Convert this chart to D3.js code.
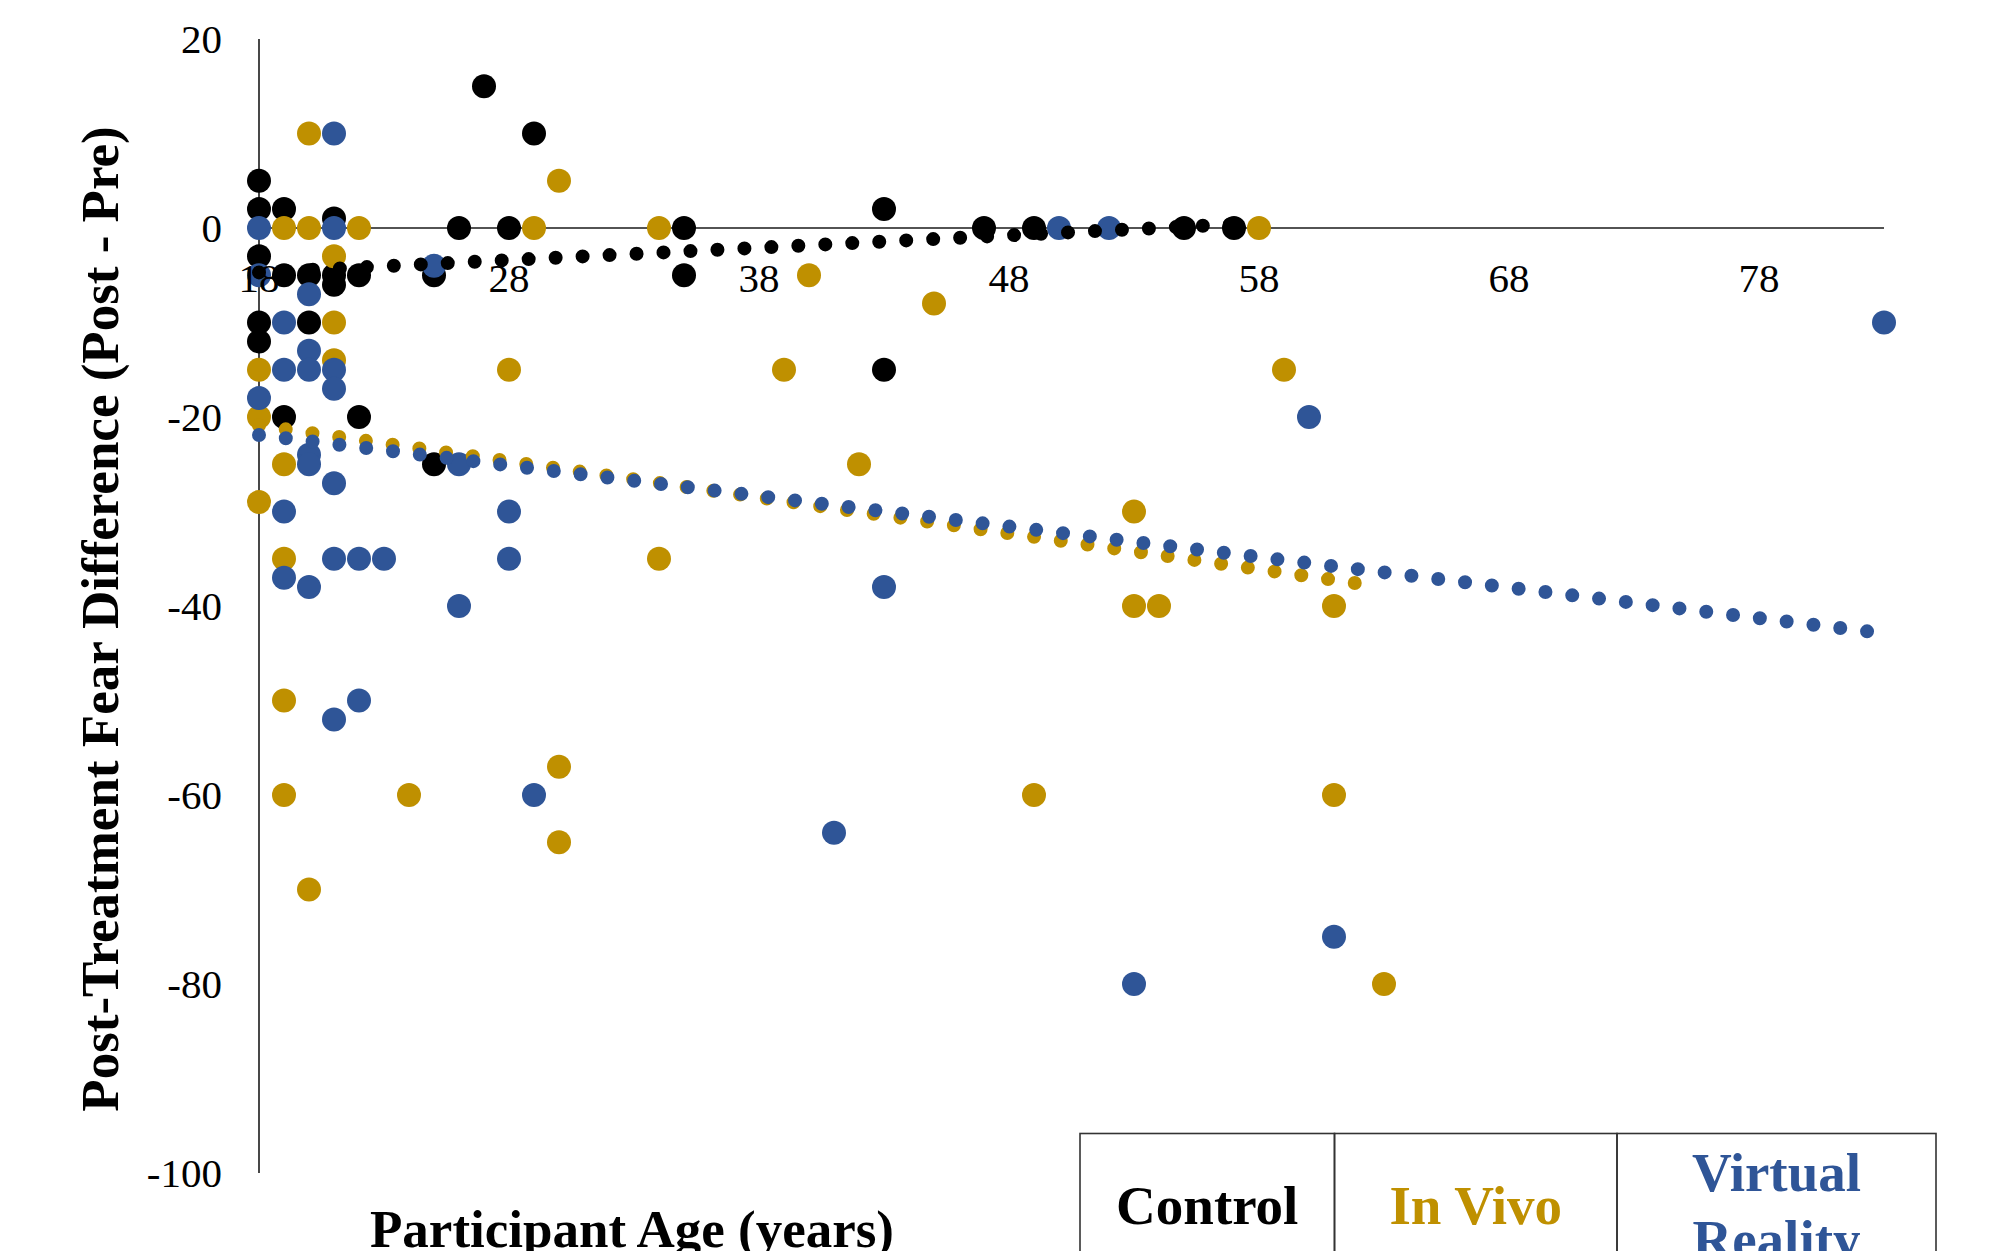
<!DOCTYPE html>
<html>
<head>
<meta charset="utf-8">
<script src="https://cdn.jsdelivr.net/npm/d3@7"></script>
<style>
  html, body { margin: 0; padding: 0; background: #fff; }
  svg { display: block; }
  text { font-family: "Liberation Serif", "Times New Roman", serif; }
</style>
</head>
<body>
<div id="my_dataviz"></div>
<script>
// Data: [age, post - pre]
var controlPoints = [
    [18, 5], [18, 2], [19, 2], [21, 1], [26, 0], [28, 0], [18, -3], [19, -5], [20, -5],
    [21, -5], [21, -6], [22, -5], [25, -5], [18, -10], [20, -10], [18, -12], [19, -20],
    [22, -20], [25, -25], [27, 15], [29, 10], [35, 0], [43, 2], [47, 0], [35, -5],
    [43, -15], [49, 0], [55, 0], [57, 0]
];
var inVivoPoints = [
    [20, 10], [19, 0], [20, 0], [22, 0], [21, -3], [21, -10], [21, -14], [18, -15],
    [18, -20], [19, -25], [18, -29], [19, -35], [19, -50], [19, -60], [20, -70], [24, -60],
    [28, -15], [29, 0], [30, 5], [30, -57], [30, -65], [34, 0], [34, -35], [39, -15],
    [40, -5], [42, -25], [45, -8], [49, -60], [53, -30], [53, -40], [54, -40], [58, 0],
    [59, -15], [61, -40], [61, -60], [63, -80]
];
var vrPoints = [
    [21, 10], [18, 0], [21, 0], [18, -5], [25, -4], [20, -7], [19, -10], [20, -13],
    [19, -15], [20, -15], [21, -15], [21, -17], [18, -18], [20, -24], [20, -25], [21, -27],
    [26, -25], [19, -30], [28, -30], [21, -35], [22, -35], [23, -35], [28, -35], [19, -37],
    [20, -38], [26, -40], [22, -50], [21, -52], [29, -60], [41, -64], [43, -38], [50, 0],
    [52, 0], [60, -20], [53, -80], [61, -75], [83, -10]
];

// linear trendlines, end points
var controlTrend = [[18, -4.7], [57, 0.4]];
var inVivoTrend = [[18, -20.9], [62.2, -37.7]];
var vrTrend = [[18, -21.9], [83, -42.9]];

var seriesNames = ["Control", "In Vivo", "Virtual Reality"];
var seriesColors = ["#000000", "#BF9000", "#2F5597"];

var xTicks = [18, 28, 38, 48, 58, 68, 78];
var yTicks = [20, 0, -20, -40, -60, -80, -100];

var width = 1990,
    height = 1251;

var svg = d3.select("#my_dataviz")
    .append("svg")
    .attr("width", width)
    .attr("height", height)
    .style("background", "#fff");

var x = d3.scaleLinear()
    .domain([18, 83])
    .range([259, 1884]);

var y = d3.scaleLinear()
    .domain([-100, 20])
    .range([1173, 39]);

// axis lines (x axis crosses at 0)
svg.append("line")
    .attr("x1", x(18)).attr("x2", x(18))
    .attr("y1", y(20)).attr("y2", y(-100))
    .attr("stroke", "#1a1a1a")
    .attr("stroke-width", 1.6);

svg.append("line")
    .attr("x1", x(18)).attr("x2", x(83))
    .attr("y1", y(0)).attr("y2", y(0))
    .attr("stroke", "#1a1a1a")
    .attr("stroke-width", 1.6);

// scatter points, one group per series
var allPoints = [controlPoints, inVivoPoints, vrPoints];

allPoints.forEach(function (pts, i) {
    svg.append("g")
        .selectAll("circle")
        .data(pts)
        .enter()
        .append("circle")
        .attr("cx", function (d) { return x(d[0]); })
        .attr("cy", function (d) { return y(d[1]); })
        .attr("r", 12)
        .attr("fill", seriesColors[i]);
});

// dotted trendlines on top
var line = d3.line()
    .x(function (d) { return x(d[0]); })
    .y(function (d) { return y(d[1]); });

[controlTrend, inVivoTrend, vrTrend].forEach(function (t, i) {
    svg.append("path")
        .attr("d", line(t))
        .attr("fill", "none")
        .attr("stroke", seriesColors[i])
        .attr("stroke-width", 14)
        .attr("stroke-linecap", "round")
        .attr("stroke-dasharray", "0 27");
});

// tick labels
svg.append("g")
    .selectAll("text")
    .data(yTicks)
    .enter()
    .append("text")
    .attr("x", 222)
    .attr("y", function (d) { return y(d); })
    .attr("dy", "0.33em")
    .attr("text-anchor", "end")
    .style("font-size", "41px")
    .text(function (d) { return d; });

svg.append("g")
    .selectAll("text")
    .data(xTicks)
    .enter()
    .append("text")
    .attr("x", function (d) { return x(d); })
    .attr("y", y(0) + 64)
    .attr("text-anchor", "middle")
    .style("font-size", "41px")
    .text(function (d) { return d; });

// axis titles
svg.append("text")
    .attr("transform", "translate(118," + 619 + ") rotate(-90)")
    .attr("text-anchor", "middle")
    .style("font-size", "53px")
    .style("font-weight", "bold")
    .text("Post-Treatment Fear Difference (Post - Pre)");

svg.append("text")
    .attr("x", 632)
    .attr("y", 1247)
    .attr("text-anchor", "middle")
    .style("font-size", "53px")
    .style("font-weight", "bold")
    .text("Participant Age (years)");

// legend table (bottom right, runs past the bottom edge)
var cellEdges = [1080, 1334.5, 1617, 1936];
var legend = svg.append("g");

legend.selectAll("rect")
    .data(seriesNames)
    .enter()
    .append("rect")
    .attr("x", function (d, i) { return cellEdges[i]; })
    .attr("y", 1133.5)
    .attr("width", function (d, i) { return cellEdges[i + 1] - cellEdges[i]; })
    .attr("height", 200)
    .attr("fill", "none")
    .attr("stroke", "#333")
    .attr("stroke-width", 1.6);

legend.selectAll("text")
    .data(seriesNames)
    .enter()
    .append("text")
    .attr("x", function (d, i) { return (cellEdges[i] + cellEdges[i + 1]) / 2; })
    .attr("y", function (d, i) { return i === 2 ? 1191 : 1224; })
    .attr("text-anchor", "middle")
    .attr("fill", function (d, i) { return seriesColors[i]; })
    .style("font-size", "55px")
    .style("font-weight", "bold")
    .each(function (d) {
        var words = d === "Virtual Reality" ? ["Virtual", "Reality"] : [d];
        var t = d3.select(this);
        words.forEach(function (w, k) {
            t.append("tspan")
                .attr("x", t.attr("x"))
                .attr("dy", k === 0 ? 0 : 67)
                .text(w);
        });
    });
</script>
</body>
</html>
